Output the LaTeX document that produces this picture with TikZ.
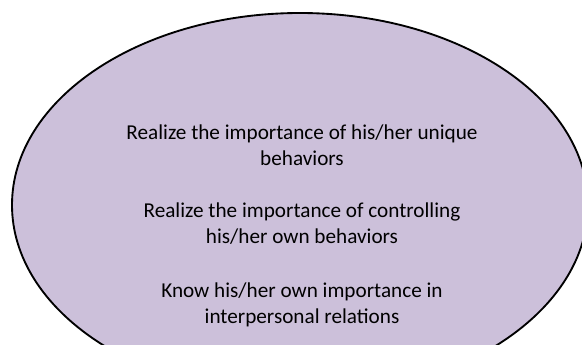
\documentclass[tikz,border=0pt]{standalone}
\usepackage{fontspec}
\setmainfont{Carlito}
\usepackage{xcolor}
\usepackage{tikz}
\usetikzlibrary{positioning}
\definecolor{ovalfill}{HTML}{CCC0DA}

\begin{document}
\begin{tikzpicture}[x=0.75pt,y=0.75pt,
  aim/.style={align=center,inner sep=0pt,anchor=base,
    font=\fontsize{15.9}{19.1}\selectfont}]
\useasboundingbox (0,0) rectangle (582,344);
\clip (0,0) rectangle (582,344);
\coordinate (O) at (300,139);

\fill[ovalfill] (O) ellipse [x radius=288, y radius=192];
\draw[line width=1.4pt] (O) ellipse [x radius=288, y radius=192];
\node[aim] (unique) at (302,179) {Realize the importance of his/her unique\\behaviors};
\node[aim] (control) at (302,101) {Realize the importance of controlling\\his/her own behaviors};
\node[aim] (relations) at (302,21) {Know his/her own importance in\\interpersonal relations};
\end{tikzpicture}
\end{document}
